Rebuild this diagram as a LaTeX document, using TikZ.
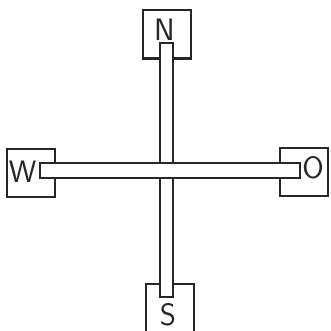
\documentclass[tikz,border=0pt]{standalone}
\usepackage{tikz}
\usetikzlibrary{calc,positioning}
\definecolor{inkgray}{HTML}{262626}

\begin{document}
\begin{tikzpicture}[
  x=1pt, y=1pt,
  dirbox/.style={draw=inkgray, line width=2pt, minimum width=48pt, minimum height=48pt, inner sep=0pt},
  letter/.style={font=\sffamily\fontsize{31}{33}\selectfont, text=inkgray, inner sep=0pt},
  bar/.style={draw=inkgray, fill=white, line width=2pt},
]
  \useasboundingbox (0,0) rectangle (331,330);

  % Direction boxes
  \node[dirbox] (n) at (166.5, 295.5) {};
  \node[dirbox] (s) at (169.5, 22.5) {};
  \node[dirbox] (w) at (30.5, 157.5) {};
  \node[dirbox] (o) at (304, 158) {};

  % Bars (vertical first, horizontal lies on top)
  \draw[bar] ($(n.center)+(-6.5,-8.5)$) rectangle ($(n.center |- s.center)+(6.5,10.5)$);
  \draw[bar] ($(w.center)+(9.5,-5.5)$) rectangle ($(o.center |- w.center)+(-4,9.5)$);

  % Letters
  \node[letter] (nl) at (164.5, 300.5) {N};
  \node[letter] (sl) at (168, 15.5) {S};
  \node[letter] (wl) at (22.5, 158.5) {W};
  \node[letter] (ol) at (313, 162) {O};

\end{tikzpicture}
\end{document}
